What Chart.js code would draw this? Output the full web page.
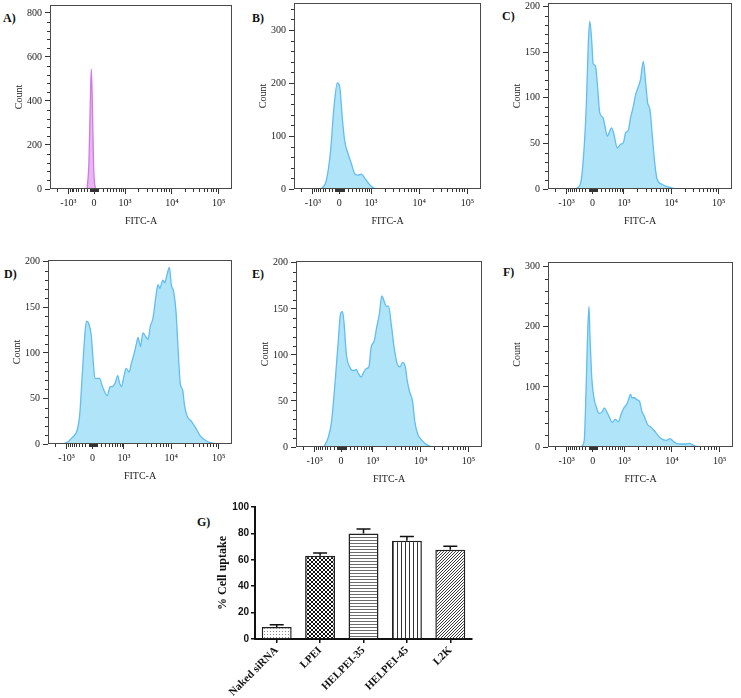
<!DOCTYPE html>
<html>
<head>
<meta charset="utf-8">
<script src="https://cdn.jsdelivr.net/npm/chart.js@4.4.1/dist/chart.umd.min.js"></script>
<style>
  body { margin: 0; background: #fff; width: 741px; height: 698px; position: relative; overflow: hidden; }
  canvas { position: absolute; }
  .tag { position: absolute; font: bold 12px "Liberation Serif"; line-height: 12px; color: #111; }
</style>
</head>
<body>
<div class="tag" style="left:3px;top:12px">A)</div>
<div class="tag" style="left:252px;top:12px">B)</div>
<div class="tag" style="left:502px;top:10px">C)</div>
<div class="tag" style="left:4px;top:268px">D)</div>
<div class="tag" style="left:252px;top:268px">E)</div>
<div class="tag" style="left:503px;top:266px">F)</div>
<div class="tag" style="left:197px;top:516px">G)</div>
<canvas id="histA"></canvas>
<canvas id="histB"></canvas>
<canvas id="histC"></canvas>
<canvas id="histD"></canvas>
<canvas id="histE"></canvas>
<canvas id="histF"></canvas>
<canvas id="chartG"></canvas>
<script>
// FITC-A positions are in display units of the biexponential axis (10^3 -> 3, 10^4 -> 4, 10^5 -> 5)
var tickPos = [1.79, 2.34, 3, 4, 5];
var tickText = ["-10³", "0", "10³", "10⁴", "10⁵"];

var fitcA = [2.19, 2.23, 2.26, 2.28, 2.30, 2.33, 2.37, 2.40, 5.28];
var countA = [0, 120, 400, 545, 420, 100, 5, 0, 0];

var fitcB = [1.96, 2.07, 2.16, 2.23, 2.30, 2.35, 2.40, 2.45, 2.52, 2.59, 2.66, 2.73, 2.80, 2.87, 2.98, 3.08];
var countB = [0, 16, 73, 155, 200, 192, 136, 92, 67, 48, 29, 26, 28, 20, 7, 0];

var fitcC = [1.98, 2.09, 2.16, 2.21, 2.25, 2.28, 2.32, 2.35, 2.40, 2.45, 2.49, 2.56, 2.60, 2.65, 2.74, 2.79, 2.86, 2.93, 2.99, 3.04,
  3.09, 3.14, 3.20, 3.25, 3.29, 3.35, 3.41, 3.46, 3.50, 3.55, 3.60, 3.65, 3.70, 3.81, 3.95, 4.09];
var countC = [0, 7, 44, 95, 160, 184, 164, 138, 135, 109, 84, 78, 69, 58, 67, 60, 45, 49, 51, 62,
  64, 78, 91, 104, 110, 120, 140, 116, 95, 87, 58, 29, 11, 5, 2, 0];

var fitcD = [1.63, 1.77, 1.91, 2.02, 2.07, 2.12, 2.17, 2.21, 2.26, 2.31, 2.35, 2.39, 2.44, 2.49, 2.53, 2.58, 2.65, 2.71, 2.75, 2.81,
  2.87, 2.91, 2.95, 3.00, 3.05, 3.11, 3.16, 3.21, 3.26, 3.30, 3.35, 3.40, 3.46, 3.51, 3.56, 3.61, 3.67, 3.72, 3.76, 3.82,
  3.86, 3.91, 3.96, 4.00, 4.05, 4.10, 4.14, 4.19, 4.24, 4.28, 4.33, 4.42, 4.51, 4.61, 4.75, 4.93];
var countD = [0, 1, 7, 16, 33, 74, 115, 135, 132, 120, 93, 72, 72, 72, 66, 59, 53, 63, 63, 66,
  75, 67, 63, 74, 83, 79, 89, 98, 109, 117, 107, 122, 118, 115, 130, 137, 160, 175, 171, 180,
  177, 186, 194, 175, 167, 145, 107, 66, 59, 42, 31, 25, 18, 9, 3, 0];

var fitcE = [1.98, 2.07, 2.14, 2.21, 2.28, 2.33, 2.37, 2.40, 2.45, 2.52, 2.59, 2.66, 2.70, 2.76, 2.81, 2.86, 2.92, 2.97, 3.03, 3.08,
  3.14, 3.19, 3.24, 3.28, 3.33, 3.39, 3.45, 3.52, 3.57, 3.62, 3.68, 3.72, 3.77, 3.83, 3.88, 3.94, 4.03, 4.14, 4.24];
var countE = [0, 10, 27, 67, 114, 145, 147, 136, 101, 87, 83, 84, 80, 76, 81, 85, 87, 109, 115, 129,
  145, 164, 158, 153, 153, 132, 107, 89, 87, 92, 87, 72, 60, 50, 27, 14, 7, 2, 0];

var fitcF = [2.09, 2.16, 2.19, 2.23, 2.26, 2.28, 2.32, 2.37, 2.42, 2.47, 2.53, 2.58, 2.63, 2.68, 2.75, 2.81, 2.88, 2.93, 2.99, 3.05,
  3.09, 3.13, 3.16, 3.21, 3.26, 3.32, 3.37, 3.42, 3.49, 3.56, 3.63, 3.70, 3.77, 3.88, 3.96, 4.02, 4.09, 4.19, 4.30, 4.37,
  4.42, 4.51, 4.65];
var countF = [0, 11, 73, 186, 234, 186, 113, 79, 65, 56, 58, 65, 59, 51, 41, 46, 42, 54, 65, 71,
  79, 88, 82, 82, 79, 76, 59, 51, 37, 33, 27, 20, 14, 11, 14, 10, 6, 5, 5, 6,
  4, 1, 0];

// panel G
var groups = ["Naked siRNA", "LPEI", "HELPEI-35", "HELPEI-45", "L2K"];
var uptake = [9, 63, 80, 74.4, 67.6];
var uptakeErr = [1.8, 2.2, 3.3, 3.3, 2.6];

Chart.defaults.font.family = "Liberation Serif";
Chart.defaults.color = "#222";

// biexponential-ish placement of the minor ticks
function toU(v) {
  var base = Math.asinh(1000 / 458);
  var u = 3 + (Math.asinh(v / 458) - base) / Math.LN10;
  if (v < 0) u = 2.34 - (2.34 - u) * (0.55 / 0.66);
  return u;
}
var xMinor = [];
[10, 20, 30, 40, 50, 60, 70, 80, 90, 100, 200, 300, 400, 500, 600, 700, 800, 900].forEach(function (v) {
  xMinor.push(toU(v), toU(-v));
});
[2, 3, 4, 5, 6, 7, 8, 9].forEach(function (m) {
  xMinor.push(toU(m * 1000), toU(m * 10000));
});
xMinor.push(toU(-2000));

var minorTicks = {
  id: "minorTicks",
  afterDraw: function (chart, args, opts) {
    var ctx = chart.ctx, a = chart.chartArea, x = chart.scales.x, y = chart.scales.y;
    ctx.save();
    ctx.strokeStyle = "#333";
    ctx.lineWidth = 1;
    ctx.beginPath();
    opts.x.forEach(function (v) {
      if (v < x.min || v > x.max) return;
      var p = Math.round(x.getPixelForValue(v)) + 0.5;
      ctx.moveTo(p, a.bottom);
      ctx.lineTo(p, a.bottom + 3);
    });
    opts.y.forEach(function (v) {
      var p = Math.round(y.getPixelForValue(v)) + 0.5;
      ctx.moveTo(a.left, p);
      ctx.lineTo(a.left - 3, p);
    });
    ctx.stroke();
    ctx.strokeStyle = "#4a4a4a";
    ctx.strokeRect(a.left + 0.5, a.top + 0.5, a.right - a.left - 1, a.bottom - a.top - 1);
    ctx.restore();
  }
};

function histogram(id, box, yMax, yStep, xs, ys, lineColor, fillColor) {
  var left = Math.max(box[0] - 50, 0);
  var padTop = Math.min(box[1], 6);
  var cv = document.getElementById(id);
  cv.width = box[2] - left + 8;
  cv.height = box[3] - box[1] + padTop + 43;
  cv.style.left = left + "px";
  cv.style.top = (box[1] - padTop) + "px";

  var yMajor = [], yMinor = [];
  for (var k = 0; k * yStep <= yMax; k++) yMajor.push(k * yStep);
  for (var v = yStep / 5; v < yMax; v += yStep / 5) {
    if (Math.abs(v / yStep - Math.round(v / yStep)) > 0.01) yMinor.push(v);
  }

  new Chart(cv.getContext("2d"), {
    type: "line",
    data: {
      datasets: [{
        data: xs.map(function (x, i) { return { x: x, y: ys[i] }; }),
        borderColor: lineColor,
        backgroundColor: fillColor,
        borderWidth: 1.3,
        fill: "origin",
        pointRadius: 0,
        cubicInterpolationMode: "monotone"
      }]
    },
    options: {
      responsive: false,
      animation: false,
      layout: { padding: { left: 0, top: padTop, right: 8, bottom: 0 } },
      plugins: { legend: { display: false }, tooltip: { enabled: false }, minorTicks: { x: xMinor, y: yMinor } },
      scales: {
        x: {
          type: "linear",
          min: 1.4,
          max: 5.28,
          border: { display: false },
          grid: { drawOnChartArea: false, tickLength: 5, color: "#333" },
          ticks: {
            autoSkip: false,
            maxRotation: 0,
            padding: 3,
            font: { size: 10 },
            callback: function (val) { return tickText[tickPos.indexOf(val)]; }
          },
          afterBuildTicks: function (s) { s.ticks = tickPos.map(function (p) { return { value: p }; }); },
          title: { display: true, text: "FITC-A", font: { size: 10 }, padding: { top: 0, bottom: 5 } },
          afterFit: function (s) { s.height = 43; s.paddingLeft = 0; s.paddingRight = 0; }
        },
        y: {
          min: 0,
          max: yMax,
          border: { display: false },
          grid: { drawOnChartArea: false, tickLength: 5, color: "#333" },
          ticks: { padding: 3, font: { size: 10 } },
          afterBuildTicks: function (s) { s.ticks = yMajor.map(function (p) { return { value: p }; }); },
          title: { display: true, text: "Count", font: { size: 10 }, padding: { top: box[0] - 31 - left - 6, bottom: 0 } },
          afterFit: function (s) { s.width = box[0] - left; s.paddingTop = 0; s.paddingBottom = 0; }
        }
      }
    },
    plugins: [minorTicks]
  });
}

var blueLine = "#62bdf0", blueFill = "#b0e4f8";
histogram("histA", [50, 5, 232, 189], 836, 200, fitcA, countA, "#d27ae6", "#e9b5f2");
histogram("histB", [294, 3, 481, 189], 351, 100, fitcB, countB, blueLine, blueFill);
histogram("histC", [548, 3, 732, 189], 204, 50, fitcC, countC, blueLine, blueFill);
histogram("histD", [48, 260, 232, 444], 202, 50, fitcD, countD, blueLine, blueFill);
histogram("histE", [296, 261, 482, 447], 202, 50, fitcE, countE, blueLine, blueFill);
histogram("histF", [548, 262, 733, 447], 308, 100, fitcF, countF, blueLine, blueFill);

// bar fills
function pattern(kind) {
  var c = document.createElement("canvas");
  var g = c.getContext("2d");
  if (kind === "dots") {
    c.width = 3; c.height = 3;
    g.fillStyle = "#fff"; g.fillRect(0, 0, 3, 3);
    g.fillStyle = "#8a8a8a"; g.fillRect(1, 1, 1, 1);
  } else if (kind === "checker") {
    c.width = 4; c.height = 4;
    g.fillStyle = "#fff"; g.fillRect(0, 0, 4, 4);
    g.fillStyle = "#111"; g.fillRect(0, 0, 2, 2); g.fillRect(2, 2, 2, 2);
  } else if (kind === "hlines") {
    c.width = 3; c.height = 3;
    g.fillStyle = "#fff"; g.fillRect(0, 0, 3, 3);
    g.fillStyle = "#6e6e6e"; g.fillRect(0, 0, 3, 1);
  } else if (kind === "vlines") {
    c.width = 4; c.height = 4;
    g.fillStyle = "#fff"; g.fillRect(0, 0, 4, 4);
    g.fillStyle = "#333"; g.fillRect(0, 0, 1, 4);
  } else {
    c.width = 3; c.height = 3;
    g.fillStyle = "#fff"; g.fillRect(0, 0, 3, 3);
    g.fillStyle = "#3a3a3a"; g.fillRect(2, 0, 1, 1); g.fillRect(1, 1, 1, 1); g.fillRect(0, 2, 1, 1);
  }
  return g.createPattern(c, "repeat");
}

var errorBars = {
  id: "errorBars",
  afterDatasetsDraw: function (chart) {
    var ctx = chart.ctx, y = chart.scales.y;
    var meta = chart.getDatasetMeta(0);
    ctx.save();
    ctx.strokeStyle = "#111";
    ctx.lineWidth = 1.5;
    meta.data.forEach(function (bar, i) {
      var top = y.getPixelForValue(uptake[i]);
      var hi = y.getPixelForValue(uptake[i] + uptakeErr[i]);
      ctx.beginPath();
      ctx.moveTo(bar.x, top);
      ctx.lineTo(bar.x, hi);
      ctx.moveTo(bar.x - 7, hi);
      ctx.lineTo(bar.x + 7, hi);
      ctx.stroke();
    });
    ctx.restore();
  }
};

var cvG = document.getElementById("chartG");
cvG.width = 300; cvG.height = 203;
cvG.style.left = "185px"; cvG.style.top = "495px";

new Chart(cvG.getContext("2d"), {
  type: "bar",
  data: {
    labels: groups,
    datasets: [{
      data: uptake,
      backgroundColor: [pattern("dots"), pattern("checker"), pattern("hlines"), pattern("vlines"), pattern("diag")],
      borderColor: "#222",
      borderWidth: 1.5,
      barPercentage: 0.69,
      categoryPercentage: 1
    }]
  },
  options: {
    responsive: false,
    animation: false,
    layout: { padding: { left: 0, top: 12, right: 13, bottom: 0 } },
    plugins: { legend: { display: false }, tooltip: { enabled: false } },
    scales: {
      x: {
        border: { color: "#111", width: 2 },
        grid: { drawOnChartArea: false, offset: false, tickLength: 4, color: "#111", lineWidth: 1.5 },
        ticks: { minRotation: 45, maxRotation: 45, autoSkip: false, padding: 1, color: "#111",
          font: { family: "Liberation Serif", weight: "bold", size: 11 } },
        afterFit: function (s) { s.height = 59; }
      },
      y: {
        min: 0,
        max: 100,
        border: { color: "#111", width: 2 },
        grid: { drawOnChartArea: false, tickLength: 4, color: "#111", lineWidth: 1.5 },
        ticks: { stepSize: 20, padding: 2, color: "#111", font: { family: "Liberation Sans", weight: "bold", size: 10 } },
        title: { display: true, text: "% Cell uptake", color: "#111",
          font: { family: "Liberation Serif", weight: "bold", size: 12 }, padding: { top: 31, bottom: 0 } },
        afterFit: function (s) { s.width = 70; s.paddingTop = 0; }
      }
    }
  },
  plugins: [errorBars]
});
</script>
</body>
</html>
